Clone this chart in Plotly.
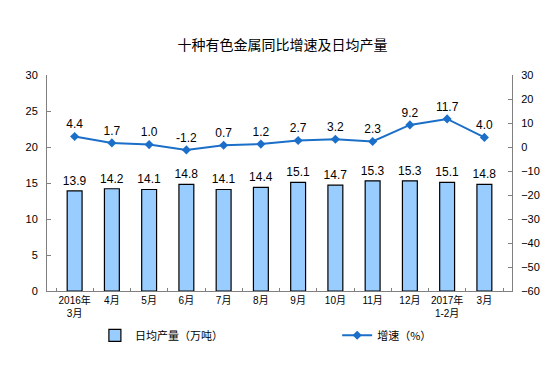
import plotly.graph_objects as go

categories = ["2016年<br>3月", "4月", "5月", "6月", "7月", "8月", "9月", "10月", "11月", "12月", "2017年<br>1-2月", "3月"]
output_vals = [13.9, 14.2, 14.1, 14.8, 14.1, 14.4, 15.1, 14.7, 15.3, 15.3, 15.1, 14.8]
growth_vals = [4.4, 1.7, 1.0, -1.2, 0.7, 1.2, 2.7, 3.2, 2.3, 9.2, 11.7, 4.0]
left_ticks = [0, 5, 10, 15, 20, 25, 30]
right_ticks = [-60, -50, -40, -30, -20, -10, 0, 10, 20, 30]

num_font = "Liberation Sans, Arial, sans-serif"
cjk_font = "Noto Sans CJK SC, sans-serif"
mixed_font = "Liberation Sans, Noto Sans CJK SC, sans-serif"

fig = go.Figure()
fig.add_trace(go.Bar(
    x=categories, y=output_vals, name="日均产量（万吨）",
    marker=dict(color="#99CCFF", line=dict(color="#000000", width=1.2)),
    width=0.4,
    text=[f"{v:.1f}" for v in output_vals], textposition="outside",
    constraintext="none",
    textfont=dict(family=num_font, size=12, color="#000000"),
    cliponaxis=False, legend="legend",
))
fig.add_trace(go.Scatter(
    x=categories, y=growth_vals, name="增速（%）", yaxis="y2",
    mode="lines+markers+text",
    line=dict(color="#1B6FC8", width=2),
    marker=dict(symbol="diamond", size=7, color="#1B6FC8"),
    text=[f"{v:.1f}" for v in growth_vals], textposition="top center",
    textfont=dict(family=num_font, size=12, color="#000000"),
    cliponaxis=False, legend="legend2",
))

legend_common = dict(orientation="h", xanchor="left", y=-0.205, yanchor="middle",
                     font=dict(family=cjk_font, size=11, color="#000000"),
                     bgcolor="rgba(0,0,0,0)")

fig.update_layout(
    width=549, height=366,
    margin=dict(l=39, r=45, t=67, b=83, autoexpand=False),
    paper_bgcolor="white", plot_bgcolor="white",
    title=dict(text="十种有色金属同比增速及日均产量", x=0.5, xanchor="center", y=0.899, yanchor="middle",
               font=dict(family=cjk_font, size=14, color="#000000")),
    showlegend=True,
    legend=dict(x=0.103, **legend_common),
    legend2=dict(x=0.624, **legend_common),
    bargap=0.6,
    xaxis=dict(
        type="category", showline=True, linecolor="#808080", linewidth=1,
        ticks="inside", tickson="boundaries", ticklen=3, tickcolor="#808080",
        tickangle=0,
        tickfont=dict(family=mixed_font, size=10, color="#000000"),
        showgrid=False, zeroline=False,
    ),
    yaxis=dict(
        range=[0, 30], tickvals=left_ticks, showline=True, linecolor="#808080", linewidth=1,
        ticks="inside", ticklen=4, tickcolor="#808080", ticklabelstandoff=6,
        tickfont=dict(family=num_font, size=11, color="#000000"),
        showgrid=False, zeroline=False,
    ),
    yaxis2=dict(
        range=[-60, 30], tickvals=right_ticks, overlaying="y", side="right",
        showline=True, linecolor="#808080", linewidth=1,
        ticks="inside", ticklen=4, tickcolor="#808080", ticklabelstandoff=6,
        tickfont=dict(family=num_font, size=11, color="#000000"),
        showgrid=False, zeroline=False,
    ),
)

fig.write_html("out.html")
